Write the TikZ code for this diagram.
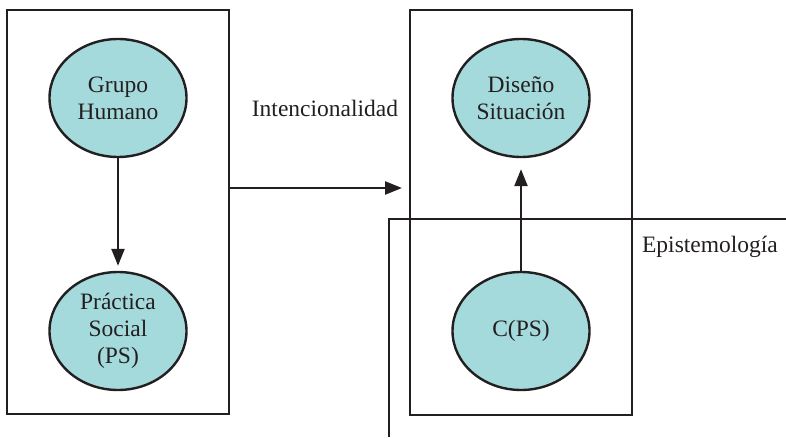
\documentclass[tikz,border=0pt]{standalone}
\usepackage{fontspec}
\setmainfont{Liberation Serif}
\usetikzlibrary{shapes.geometric,arrows.meta}
\definecolor{lineC}{HTML}{231F20}
\definecolor{fillC}{HTML}{A4DADB}
\begin{document}
\begin{tikzpicture}[x=1pt,y=-1pt,
  lw/.style={line width=2.4pt, draw=lineC},
  frame/.style={lw, rectangle, minimum width=222pt, inner sep=0pt},
  oval/.style={lw, ellipse, fill=fillC, minimum width=137pt, minimum height=118pt, inner sep=0pt,
    align=center, font=\fontsize{23.5}{27}\selectfont, text=lineC},
  lbl/.style={font=\fontsize{23.5}{27}\selectfont, text=lineC, inner sep=0pt},
  arr/.style={lw, -{Triangle[length=17pt,width=13pt]}}]
\useasboundingbox (0,0) rectangle (786,438);
% frames
\node[frame, minimum height=404pt] (lbox) at (118,212) {};
\node[frame, minimum height=405pt] (rbox) at (521,212.5) {};
% ovals
\node[oval] (gh) at (118,98) {Grupo\\Humano};
\node[oval] (ps) at (118,331) {Práctica\\Social\\(PS)};
\node[oval] (ds) at (521,98) {Diseño\\Situación};
\node[oval] (cps) at (521,331) {C(PS)};
% labels
\node[lbl] (int) at (325,108) {Intencionalidad};
\node[lbl] (epi) at (710,247) {Epistemología};
% epistemology line
\coordinate (e1) at (389,437);
\coordinate (e2) at (389,219);
\coordinate (e3) at (786,219);
\draw[lw] (e1) -- (e2) -- (e3);
% arrows
\coordinate (a1) at (229,188);
\coordinate (a2) at (402,188);
\draw[arr] (a1) -- (a2);
\draw[arr, shorten >=5pt] (gh.south) -- (ps.north);
\draw[arr, shorten >=11pt] (cps.north) -- (ds.south);
\end{tikzpicture}
\end{document}
